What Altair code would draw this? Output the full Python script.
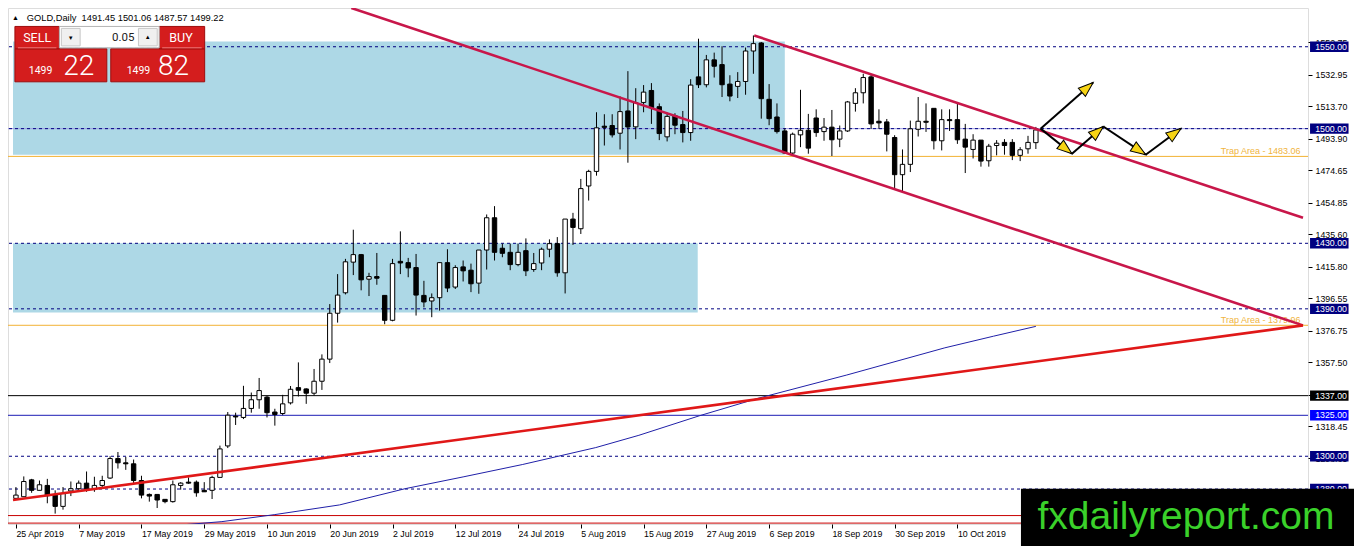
import json
import math
import altair as alt
import pandas as pd

# ---------------- values ----------------
date_labels = ["25 Apr 2019", "7 May 2019", "17 May 2019", "29 May 2019", "10 Jun 2019",
               "20 Jun 2019", "2 Jul 2019", "12 Jul 2019", "24 Jul 2019", "5 Aug 2019",
               "15 Aug 2019", "27 Aug 2019", "6 Sep 2019", "18 Sep 2019", "30 Sep 2019",
               "10 Oct 2019"]

opens = [1274.3, 1275.3, 1285.6, 1279.2, 1282.2, 1276.3, 1269.4, 1278.8, 1280.2, 1283.6,
         1280.2, 1282.2, 1286.7, 1298.6, 1296.0, 1295.4, 1285.2, 1276.7, 1276.7, 1273.7,
         1272.3, 1282.2, 1284.2, 1284.2, 1279.2, 1279.2, 1287.1, 1306.3, 1324.5, 1323.7,
         1329.2, 1334.5, 1336.1, 1327.0, 1326.1, 1332.6, 1341.9, 1341.1, 1338.5, 1345.8,
         1359.3, 1387.3, 1399.8, 1418.5, 1423.1, 1408.1, 1409.7, 1398.2, 1383.0, 1419.0,
         1418.2, 1415.2, 1398.2, 1394.8, 1396.8, 1418.2, 1403.3, 1415.6, 1413.6, 1405.7,
         1425.9, 1445.6, 1427.0, 1424.5, 1417.0, 1425.5, 1414.0, 1418.0, 1426.4, 1429.8,
         1412.0, 1444.8, 1438.9, 1465.0, 1473.9, 1501.5, 1501.9, 1497.2, 1510.8, 1501.1,
         1516.0, 1523.3, 1513.4, 1495.0, 1507.9, 1502.5, 1497.6, 1531.6, 1526.8, 1542.0,
         1539.1, 1527.2, 1525.8, 1528.8, 1547.4, 1552.3, 1517.9, 1507.1, 1498.6, 1485.1,
         1496.2, 1499.0, 1506.5, 1498.2, 1500.9, 1493.6, 1498.6, 1515.4, 1521.9, 1531.6,
         1504.5, 1504.1, 1494.6, 1471.9, 1478.2, 1499.6, 1504.5, 1512.4, 1492.6, 1505.5,
         1505.5, 1493.6, 1487.3, 1493.0, 1480.4, 1489.7, 1491.6, 1491.6, 1483.7, 1487.7,
         1491.45]
highs = [1281.2, 1287.7, 1286.2, 1285.2, 1286.2, 1279.2, 1281.2, 1284.6, 1285.2, 1290.7,
         1287.5, 1288.1, 1300.0, 1302.6, 1299.6, 1298.0, 1288.1, 1277.3, 1276.7, 1273.7,
         1285.2, 1284.2, 1287.1, 1285.2, 1284.2, 1288.1, 1306.5, 1327.0, 1326.6, 1343.0,
         1338.9, 1347.8, 1336.9, 1329.0, 1337.5, 1342.9, 1357.3, 1341.5, 1353.3, 1362.2,
         1392.9, 1411.2, 1420.5, 1438.3, 1423.5, 1412.0, 1424.1, 1398.2, 1420.5, 1437.3,
         1421.1, 1423.5, 1407.1, 1399.4, 1418.6, 1426.4, 1416.6, 1419.5, 1417.6, 1425.9,
         1447.6, 1452.7, 1429.8, 1429.8, 1429.8, 1433.0, 1424.1, 1427.4, 1432.4, 1433.8,
         1444.8, 1448.6, 1469.3, 1474.9, 1510.0, 1508.8, 1508.8, 1519.7, 1535.1, 1524.7,
         1526.6, 1527.8, 1515.4, 1509.8, 1509.4, 1510.8, 1530.2, 1554.9, 1545.0, 1546.4,
         1550.3, 1532.6, 1534.5, 1549.5, 1556.9, 1552.9, 1527.2, 1515.4, 1500.1, 1497.6,
         1523.7, 1509.0, 1511.8, 1506.5, 1511.4, 1501.9, 1516.9, 1524.7, 1533.5, 1532.8,
         1511.8, 1505.9, 1496.0, 1487.3, 1504.9, 1519.3, 1515.4, 1512.4, 1511.8, 1511.8,
         1515.8, 1502.9, 1496.6, 1493.0, 1490.7, 1493.0, 1493.6, 1493.6, 1488.7, 1495.6,
         1501.06]
lows = [1273.3, 1275.3, 1277.7, 1279.2, 1271.3, 1265.0, 1267.4, 1275.7, 1278.3, 1278.3,
        1278.3, 1281.2, 1286.2, 1292.5, 1291.7, 1283.6, 1274.3, 1272.3, 1268.4, 1271.3,
        1271.7, 1279.6, 1283.2, 1275.3, 1278.3, 1273.9, 1287.1, 1305.0, 1319.1, 1322.7,
        1326.6, 1329.0, 1323.7, 1318.7, 1325.1, 1331.6, 1336.5, 1332.0, 1337.1, 1340.5,
        1356.9, 1381.6, 1398.8, 1410.6, 1401.3, 1397.8, 1404.7, 1380.6, 1382.4, 1411.2,
        1409.3, 1385.9, 1390.9, 1384.9, 1388.9, 1400.2, 1402.1, 1406.7, 1400.2, 1399.2,
        1414.0, 1419.5, 1421.5, 1413.6, 1416.0, 1410.0, 1412.6, 1413.6, 1421.5, 1409.6,
        1399.4, 1429.0, 1435.7, 1456.1, 1471.3, 1489.7, 1494.6, 1487.3, 1479.2, 1493.6,
        1510.0, 1502.9, 1493.0, 1492.2, 1496.6, 1491.6, 1492.6, 1524.8, 1525.2, 1531.2,
        1519.3, 1516.7, 1518.7, 1520.7, 1533.5, 1506.1, 1502.1, 1497.0, 1484.7, 1484.3,
        1488.7, 1484.7, 1495.0, 1492.6, 1483.3, 1488.7, 1498.0, 1510.4, 1515.4, 1499.9,
        1499.9, 1486.1, 1463.6, 1461.0, 1473.5, 1495.2, 1498.0, 1487.3, 1486.7, 1498.6,
        1490.7, 1472.9, 1481.8, 1476.8, 1476.8, 1483.7, 1484.1, 1480.8, 1480.2, 1484.7,
        1487.57]
closes = [1276.3, 1284.6, 1279.2, 1282.6, 1275.9, 1269.4, 1277.3, 1280.2, 1283.6, 1279.2,
          1282.2, 1285.2, 1298.6, 1296.0, 1295.4, 1285.2, 1276.3, 1275.7, 1273.3, 1272.3,
          1282.6, 1283.6, 1283.6, 1277.7, 1278.3, 1287.1, 1304.5, 1325.1, 1324.0, 1329.2,
          1334.5, 1340.1, 1326.6, 1325.5, 1332.0, 1340.9, 1340.3, 1338.5, 1345.8, 1359.3,
          1387.3, 1398.4, 1418.7, 1423.1, 1407.7, 1409.7, 1408.7, 1383.0, 1417.6, 1418.0,
          1415.0, 1398.4, 1394.2, 1396.8, 1418.2, 1402.7, 1415.2, 1413.2, 1405.3, 1425.9,
          1445.6, 1424.5, 1423.9, 1417.0, 1424.5, 1413.2, 1417.6, 1426.4, 1429.8, 1412.0,
          1444.8, 1439.7, 1463.4, 1473.9, 1500.5, 1500.8, 1496.2, 1510.4, 1501.0, 1515.8,
          1522.3, 1512.8, 1497.0, 1507.5, 1502.1, 1497.6, 1526.6, 1526.8, 1542.0, 1538.1,
          1526.8, 1519.9, 1528.8, 1547.4, 1551.9, 1518.3, 1506.1, 1498.2, 1485.1, 1496.6,
          1499.0, 1488.1, 1497.6, 1500.9, 1493.2, 1498.6, 1516.3, 1521.9, 1531.2, 1502.9,
          1503.5, 1496.6, 1471.9, 1478.2, 1499.9, 1504.5, 1503.9, 1492.6, 1505.5, 1504.9,
          1493.2, 1488.7, 1493.0, 1480.2, 1489.3, 1491.1, 1489.7, 1483.7, 1487.1, 1491.6,
          1499.22]

# shaded zones (price range and the bar where each ends)
zone_low = [1484.0, 1387.7]
zone_high = [1553.2, 1430.0]
zone_end_bar = [98.0, 86.9]

dashed_levels = [1550.00, 1500.00, 1430.00, 1390.00, 1300.00, 1280.00]
black_levels = [1337.00]
blue_levels = [1325.00]
red_levels = [1263.8, 1259.2]
trap_levels = [1483.06, 1379.96]
trap_texts = ["Trap Area - 1483.06", "Trap Area - 1379.96"]

# falling trend lines (start bar/price, end bar/price)
fall_b1 = [42.75, 94.1]
fall_v1 = [1573.65, 1556.9]
fall_b2 = [164.05, 164.05]
fall_v2 = [1379.9, 1445.6]
# rising trend line
rise_b = [-0.375, 164.05]
rise_v = [1273.3, 1379.9]

# moving average read at a few bars
ma_bar = [20.9, 26.25, 33.0, 41.25, 49.6, 57.1, 64.6, 73.9, 79.4, 87.1, 94.6, 105.9, 118.4, 124.6, 130.0]
ma_val = [1258.0, 1260.1, 1264.4, 1270.3, 1280.2, 1287.5, 1295.0, 1305.3, 1312.8, 1324.7,
          1335.4, 1349.6, 1366.2, 1373.3, 1379.3]

# projected path arrows
zig_bar = [130.6, 134.6, 138.6, 144.0, 148.5]
zig_val = [1500.0, 1484.7, 1501.3, 1484.1, 1500.1]
up_bar = [130.6, 137.3]
up_val = [1500.0, 1528.2]

y_tick_values = [1552.75, 1532.95, 1513.70, 1493.90, 1474.65, 1454.85, 1435.60, 1415.80,
                 1396.55, 1376.75, 1357.50, 1337.70, 1318.45, 1298.65, 1279.40]

title_text = "GOLD,Daily\u00a0 1491.45 1501.06 1487.57 1499.22"

# ---------------- layout ----------------
FONT = "Liberation Sans"
W, H = 1300, 516
XMIN, XMAX = -0.375, 164.05
YMIN, YMAX = 1258.65, 1573.65
SX, SY = 1346 / 1362, 538 / 554
PPB = W / (XMAX - XMIN)
PPV = H / (YMAX - YMIN)

NAVY = "#000080"
CRIMSON = "#c8174a"
RED = "#e01818"
ORANGE = "#f2b233"

xs = alt.Scale(domain=[XMIN, XMAX], nice=False, zero=False)
ys = alt.Scale(domain=[YMIN, YMAX], nice=False, zero=False)

x_axis = alt.Axis(values=list(range(0, 8 * len(date_labels), 8)),
                  labelExpr=json.dumps(date_labels) + "[round(datum.value / 8)]",
                  tickSize=4, tickColor="black", labelAlign="left", labelBaseline="top",
                  labelPadding=1, domain=False, grid=False, labelFont=FONT,
                  labelFontSize=8.8, labelColor="black", labelOverlap=False,
                  labelFlush=False, title=None)
y_axis = alt.Axis(orient="right", values=y_tick_values, format=".2f", tickSize=4,
                  tickColor="black", labelPadding=3, labelAlign="left",
                  labelBaseline="middle", domain=False, grid=False, labelFont=FONT,
                  labelFontSize=8.8, labelColor="black", labelOverlap=False,
                  labelFlush=False, title=None)


def X(f):
    return alt.X(f, type="quantitative", scale=xs, axis=x_axis, title=None)


def Y(f):
    return alt.Y(f, type="quantitative", scale=ys, axis=y_axis, title=None)


one = pd.DataFrame({"k": [0]})


def prect(x1, y1, x2, y2, fill, stroke=None, sw=1.0):
    kw = dict(fill=fill)
    if stroke:
        kw.update(stroke=stroke, strokeWidth=sw)
    return alt.Chart(one).mark_rect(**kw).encode(
        x=alt.value(x1 * SX), x2=alt.value(x2 * SX),
        y=alt.value(y1 * SY), y2=alt.value(y2 * SY))


def prule(x1, y1, x2, y2, color, sw=1.0):
    return alt.Chart(one).mark_rule(color=color, strokeWidth=sw).encode(
        x=alt.value(x1 * SX), x2=alt.value(x2 * SX),
        y=alt.value(y1 * SY), y2=alt.value(y2 * SY))


def ptext(s, x, y, size, color="black", align="left", baseline="middle",
          font=FONT, weight="normal"):
    return alt.Chart(one).mark_text(text=s, align=align, baseline=baseline, font=font,
                                    fontSize=size, fontWeight=weight, color=color).encode(
        x=alt.value(x * SX), y=alt.value(y * SY))


# ---------------- tables built from the arrays ----------------
candles = pd.DataFrame({"bar": list(range(len(opens))), "o": opens, "h": highs,
                        "l": lows, "c": closes})
candles["lo"] = candles[["o", "c"]].min(axis=1)
candles["hi"] = candles[["o", "c"]].max(axis=1)
candles["dir"] = ["up" if c >= o else "down" for o, c in zip(opens, closes)]

zones = pd.DataFrame({"b1": [XMIN] * len(zone_low), "b2": zone_end_bar,
                      "lo": zone_low, "hi": zone_high})
falls = pd.DataFrame({"b1": fall_b1, "v1": fall_v1, "b2": fall_b2, "v2": fall_v2})
rise = pd.DataFrame({"b1": [rise_b[0]], "v1": [rise_v[0]], "b2": [rise_b[1]], "v2": [rise_v[1]]})
ma = pd.DataFrame({"bar": ma_bar, "v": ma_val})
traps = pd.DataFrame({"v": trap_levels, "t": trap_texts, "bar": [XMAX] * len(trap_levels)})

segs = [(zig_bar[k], zig_val[k], zig_bar[k + 1], zig_val[k + 1]) for k in range(len(zig_bar) - 1)]
segs.append((up_bar[0], up_val[0], up_bar[1], up_val[1]))
arrow_lines = pd.DataFrame(segs, columns=["b1", "v1", "b2", "v2"])

HEAD = 15.0
heads = []
for b1, v1, b2, v2 in segs:
    dx = (b2 - b1) * PPB
    dy = -(v2 - v1) * PPV
    L = math.hypot(dx, dy)
    ux, uy = dx / L, dy / L
    cb = b2 - ux * HEAD / 2 / PPB
    cv = v2 + uy * HEAD / 2 / PPV
    ang = math.degrees(math.atan2(dx, -dy)) % 360
    heads.append((cb, cv, ang))
arrow_heads = pd.DataFrame(heads, columns=["bar", "v", "ang"])


def lv(vals):
    return pd.DataFrame({"v": vals, "lab": [f"{v:.2f}" for v in vals]})


layers = []
# zones
layers.append(alt.Chart(zones).mark_rect(color="#add8e6").encode(
    x=X("b1"), x2="b2", y=Y("lo"), y2="hi"))
# level lines
layers.append(alt.Chart(lv([1500.00])).mark_rule(color="#9c9ce2", strokeWidth=1).encode(y=Y("v")))
layers.append(alt.Chart(lv(dashed_levels)).mark_rule(color=NAVY, strokeWidth=1,
                                                      strokeDash=[3, 3]).encode(y=Y("v")))
layers.append(alt.Chart(lv(black_levels)).mark_rule(color="black", strokeWidth=1).encode(y=Y("v")))
layers.append(alt.Chart(lv(blue_levels)).mark_rule(color="#1c1cb4", strokeWidth=1).encode(y=Y("v")))
layers.append(alt.Chart(lv(red_levels)).mark_rule(color="#c80000", strokeWidth=1).encode(y=Y("v")))
layers.append(alt.Chart(traps).mark_rule(color=ORANGE, strokeWidth=1).encode(y=Y("v")))
layers.append(alt.Chart(traps).mark_text(align="right", baseline="middle", dx=-2.5, dy=-5.3,
                                         font=FONT, fontSize=9, color="#f0b440").encode(
    x=X("bar"), y=Y("v"), text="t"))
# moving average
layers.append(alt.Chart(ma).mark_line(color="#2020a8", strokeWidth=1, clip=True).encode(
    x=X("bar"), y=Y("v")))
# candles
layers.append(alt.Chart(candles).mark_rule(color="black", strokeWidth=1).encode(
    x=X("bar"), y=Y("l"), y2="h"))
layers.append(alt.Chart(candles).mark_bar(size=4.4, stroke="black", strokeWidth=1).encode(
    x=X("bar"), y=Y("lo"), y2="hi",
    fill=alt.Fill("dir:N", scale=alt.Scale(domain=["up", "down"], range=["white", "black"]),
                  legend=None)))
# trend lines
layers.append(alt.Chart(falls).mark_rule(color=CRIMSON, strokeWidth=2.6, clip=True).encode(
    x=X("b1"), y=Y("v1"), x2="b2", y2="v2"))
layers.append(alt.Chart(rise).mark_rule(color=RED, strokeWidth=2.6, clip=True).encode(
    x=X("b1"), y=Y("v1"), x2="b2", y2="v2"))
# projected path
layers.append(alt.Chart(arrow_lines).mark_rule(color="black", strokeWidth=2).encode(
    x=X("b1"), y=Y("v1"), x2="b2", y2="v2"))
layers.append(alt.Chart(arrow_heads).mark_point(
    shape="M0,-1L0.72,1L-0.72,1Z", size=HEAD * HEAD, filled=True, fill="#f7d414",
    stroke="black", strokeWidth=1, opacity=1).encode(
    x=X("bar"), y=Y("v"), angle=alt.Angle("ang:Q", scale=None)))

# price boxes on the right scale
BOX = "M-1,-0.27L1,-0.27L1,0.27L-1,0.27Z"
for vals, col in ((dashed_levels, NAVY), (black_levels, "#000000"), (blue_levels, "#0000ff")):
    layers.append(alt.Chart(lv(vals)).mark_point(shape=BOX, size=38.5 ** 2, filled=True,
                                                 color=col, opacity=1).encode(
        x=alt.value(1337.0 * SX), y=Y("v")))
    layers.append(alt.Chart(lv(vals)).mark_text(align="left", baseline="middle", font=FONT,
                                                fontSize=8.8, color="white").encode(
        x=alt.value(1322.7 * SX), y=Y("v"), text="lab"))

# trading panel (top-left)
SELL_RED = "#d41d1d"
DARK_RED = "#9e0c0c"
layers += [
    ptext("\u25b2", 4, 10, 7),
    ptext(title_text, 19, 10.5, 9.3),
    prect(7, 42, 100, 76, SELL_RED, DARK_RED),
    prect(7, 19, 52, 42, SELL_RED, DARK_RED),
    prect(104, 42, 199, 76, SELL_RED, DARK_RED),
    prect(153, 19, 199, 42, SELL_RED, DARK_RED),
    prule(10, 41, 49, 41, "#f07a7a"),
    prule(156, 41, 196, 41, "#f07a7a"),
    prect(52, 19, 153, 41, "white", "#b4b4b4"),
    prect(54, 21, 73, 39, "#f0f0f0", "#c8c8c8"),
    prect(132, 21, 151, 39, "#f0f0f0", "#c8c8c8"),
    ptext("\u25bc", 63.5, 30.5, 6, align="center"),
    ptext("\u25b2", 141.5, 30, 6, align="center"),
    ptext("0.05", 128, 31, 11.5, color="#222222", align="right", font="Roboto"),
    ptext("SELL", 29.5, 31, 12.5, color="white", align="center", font="Roboto"),
    ptext("BUY", 175, 31, 12.5, color="white", align="center", font="Roboto"),
    ptext("1499", 33, 67.5, 10.5, color="white", align="center", baseline="alphabetic", font="Roboto"),
    ptext("22", 71.5, 68.5, 28, color="white", align="center", baseline="alphabetic",
          font="Roboto", weight=300),
    ptext("1499", 132, 67.5, 10.5, color="white", align="center", baseline="alphabetic", font="Roboto"),
    ptext("82", 167.5, 68.5, 28, color="white", align="center", baseline="alphabetic",
          font="Roboto", weight=300),
]

# watermark
layers += [
    prect(1025, 495, 1362, 554, "black"),
    ptext("fxdailyreport.com", 1041.7, 536, 39, color="#3ad12a", baseline="alphabetic"),
]

chart = alt.layer(*layers).properties(
    width=W, height=H,
    autosize=alt.AutoSizeParams(type="none"),
    padding={"left": 0, "top": 0, "right": 46, "bottom": 22},
).configure_view(stroke="black", strokeWidth=1).configure(background="white")

chart.save("out.html", embed_options={"renderer": "svg", "actions": False})
